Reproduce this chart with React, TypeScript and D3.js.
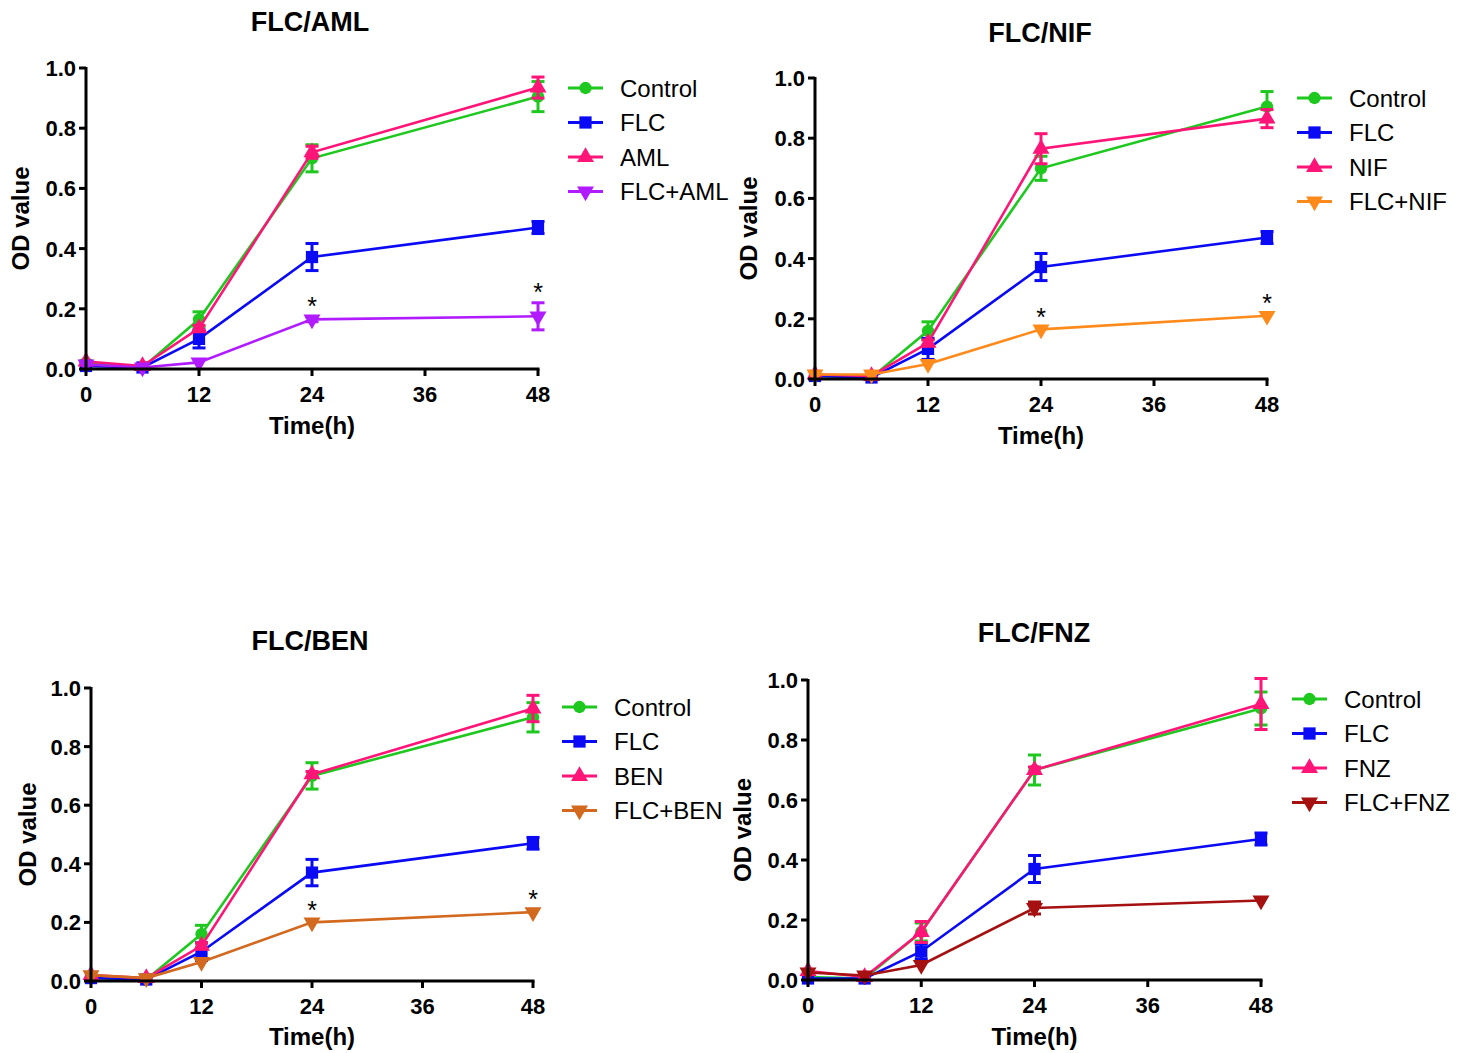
import React from 'react';
import * as d3 from 'd3';

// time points (h) and axis ticks
const times = [0, 6, 12, 24, 48];
const xTicks = [0, 12, 24, 36, 48];
const yTicks = [0, 0.2, 0.4, 0.6, 0.8, 1.0];

// FLC/AML panel
const amlControl = [0.02, 0.005, 0.165, 0.70, 0.905];
const amlControlErr = [0.008, 0.005, 0.025, 0.045, 0.05];
const amlFlc = [0.01, 0.005, 0.10, 0.372, 0.47];
const amlFlcErr = [0.005, 0.005, 0.03, 0.045, 0.02];
const amlDrug = [0.025, 0.01, 0.135, 0.72, 0.935];
const amlDrugErr = [0.005, 0.005, 0.01, 0.02, 0.035];
const amlCombo = [0.015, 0.005, 0.022, 0.165, 0.175];
const amlComboErr = [0.003, 0.003, 0.005, 0.008, 0.045];
const amlStars = [false, false, false, true, true];

// FLC/NIF panel
const nifControl = [0.01, 0.005, 0.16, 0.70, 0.905];
const nifControlErr = [0.005, 0.005, 0.03, 0.04, 0.05];
const nifFlc = [0.01, 0.005, 0.10, 0.372, 0.47];
const nifFlcErr = [0.005, 0.005, 0.035, 0.045, 0.02];
const nifDrug = [0.015, 0.01, 0.12, 0.765, 0.865];
const nifDrugErr = [0.005, 0.005, 0.01, 0.05, 0.03];
const nifCombo = [0.015, 0.015, 0.05, 0.165, 0.21];
const nifComboErr = [0.003, 0.003, 0.005, 0.006, 0.006];
const nifStars = [false, false, false, true, true];

// FLC/BEN panel
const benControl = [0.01, 0.005, 0.16, 0.70, 0.90];
const benControlErr = [0.005, 0.005, 0.03, 0.045, 0.05];
const benFlc = [0.01, 0.005, 0.10, 0.37, 0.47];
const benFlcErr = [0.005, 0.005, 0.03, 0.045, 0.02];
const benDrug = [0.02, 0.01, 0.12, 0.705, 0.93];
const benDrugErr = [0.005, 0.005, 0.01, 0.01, 0.045];
const benCombo = [0.02, 0.01, 0.065, 0.20, 0.235];
const benComboErr = [0.003, 0.003, 0.005, 0.006, 0.006];
const benStars = [false, false, false, true, true];

// FLC/FNZ panel
const fnzControl = [0.01, 0.005, 0.16, 0.70, 0.905];
const fnzControlErr = [0.005, 0.005, 0.03, 0.05, 0.055];
const fnzFlc = [0.005, 0.005, 0.095, 0.37, 0.47];
const fnzFlcErr = [0.005, 0.005, 0.025, 0.045, 0.02];
const fnzDrug = [0.03, 0.01, 0.16, 0.70, 0.92];
const fnzDrugErr = [0.005, 0.005, 0.035, 0.01, 0.085];
const fnzCombo = [0.025, 0.015, 0.05, 0.24, 0.265];
const fnzComboErr = [0.005, 0.005, 0.005, 0.02, 0.005];
const fnzStars = [false, false, false, false, false];

const GREEN = '#1ec81e';
const BLUE = '#0a0af5';
const PINK = '#ff1478';
const FONT = '"Liberation Sans", Arial, sans-serif';

type Series = { name: string; color: string; shape: string; values: number[]; errs: number[] };

const symbolPath = (shape: string) => {
  if (shape === 'circle') return d3.symbol(d3.symbolCircle, 120)()!;
  if (shape === 'square') return d3.symbol(d3.symbolSquare, 150)()!;
  return d3.symbol(d3.symbolTriangle, 125)()!;
};

const Marker = ({ shape, color, x, y }: { shape: string; color: string; x: number; y: number }) => (
  <path
    d={symbolPath(shape)}
    fill={color}
    transform={`translate(${x},${y})${shape === 'down' ? ' rotate(180)' : ''}`}
  />
);

const Panel = ({ title, series, stars, x0, x1, y0, y1, titleX, titleY, legendX, legendY, yLabelX, xLabelY }: any) => {
  const x = d3.scaleLinear().domain([0, 48]).range([x0, x1]);
  const y = d3.scaleLinear().domain([0, 1]).range([y0, y1]);
  const line = d3.line<number>().x((_, i) => x(times[i])).y(d => y(d));
  const combo: Series = series[3];

  return (
    <g fontFamily={FONT}>
      <text x={titleX} y={titleY} textAnchor="middle" fontSize={27} fontWeight="bold">{title}</text>

      {series.map((s: Series) => (
        <g key={s.name}>
          <path d={line(s.values)!} fill="none" stroke={s.color} strokeWidth={2.6} />
          {s.values.map((v, i) => s.errs[i] > 0.006 ? (
            <g key={i} stroke={s.color} strokeWidth={3}>
              <line x1={x(times[i])} x2={x(times[i])} y1={y(v - s.errs[i])} y2={y(v + s.errs[i])} />
              <line x1={x(times[i]) - 6.5} x2={x(times[i]) + 6.5} y1={y(v - s.errs[i])} y2={y(v - s.errs[i])} />
              <line x1={x(times[i]) - 6.5} x2={x(times[i]) + 6.5} y1={y(v + s.errs[i])} y2={y(v + s.errs[i])} />
            </g>
          ) : null)}
          {s.values.map((v, i) => (
            <Marker key={i} shape={s.shape} color={s.color} x={x(times[i])} y={y(v)} />
          ))}
        </g>
      ))}

      {stars.map((on: boolean, i: number) => on ? (
        <text key={i} x={x(times[i])} y={y(combo.values[i] + combo.errs[i]) - 2} textAnchor="middle" fontSize={25}>*</text>
      ) : null)}

      {/* axes */}
      <line x1={x0} x2={x0} y1={y1 - 1} y2={y0 + 1.5} stroke="#000" strokeWidth={3} />
      <line x1={x0 - 1.5} x2={x1 + 1.5} y1={y0} y2={y0} stroke="#000" strokeWidth={3} />
      {yTicks.map(t => (
        <g key={t}>
          <line x1={x0 - 7} x2={x0} y1={y(t)} y2={y(t)} stroke="#000" strokeWidth={3} />
          <text x={x0 - 10} y={y(t) + 8} textAnchor="end" fontSize={22} fontWeight="bold">{t.toFixed(1)}</text>
        </g>
      ))}
      {xTicks.map(t => (
        <g key={t}>
          <line x1={x(t)} x2={x(t)} y1={y0} y2={y0 + 7} stroke="#000" strokeWidth={3} />
          <text x={x(t)} y={y0 + 33} textAnchor="middle" fontSize={22} fontWeight="bold">{t}</text>
        </g>
      ))}
      <text x={(x0 + x1) / 2} y={xLabelY} textAnchor="middle" fontSize={24} fontWeight="bold">Time(h)</text>
      <text transform={`translate(${yLabelX},${(y0 + y1) / 2}) rotate(-90)`} textAnchor="middle" fontSize={24} fontWeight="bold">OD value</text>

      {/* legend */}
      {series.map((s: Series, i: number) => (
        <g key={s.name} transform={`translate(${legendX},${legendY + i * 34.5})`}>
          <line x1={0} x2={35} y1={0} y2={0} stroke={s.color} strokeWidth={3} />
          <Marker shape={s.shape} color={s.color} x={17.5} y={0} />
          <text x={52} y={8.5} fontSize={24}>{s.name}</text>
        </g>
      ))}
    </g>
  );
};

const mk = (drug: string, comboColor: string, c: number[][]): Series[] => [
  { name: 'Control', color: GREEN, shape: 'circle', values: c[0], errs: c[1] },
  { name: 'FLC', color: BLUE, shape: 'square', values: c[2], errs: c[3] },
  { name: drug, color: PINK, shape: 'up', values: c[4], errs: c[5] },
  { name: `FLC+${drug}`, color: comboColor, shape: 'down', values: c[6], errs: c[7] },
];

export default function App() {
  const aml = mk('AML', '#b01cff', [amlControl, amlControlErr, amlFlc, amlFlcErr, amlDrug, amlDrugErr, amlCombo, amlComboErr]);
  const nif = mk('NIF', '#ff8a1c', [nifControl, nifControlErr, nifFlc, nifFlcErr, nifDrug, nifDrugErr, nifCombo, nifComboErr]);
  const ben = mk('BEN', '#d2691e', [benControl, benControlErr, benFlc, benFlcErr, benDrug, benDrugErr, benCombo, benComboErr]);
  const fnz = mk('FNZ', '#a51010', [fnzControl, fnzControlErr, fnzFlc, fnzFlcErr, fnzDrug, fnzDrugErr, fnzCombo, fnzComboErr]);

  return (
    <svg width={1468} height={1053} style={{ position: 'absolute', left: 0, top: 0, background: '#fff' }}>
      <Panel title="FLC/AML" series={aml} stars={amlStars} x0={86} x1={538} y0={369} y1={68}
        titleX={310} titleY={31} legendX={568} legendY={88} yLabelX={29} xLabelY={434} />
      <Panel title="FLC/NIF" series={nif} stars={nifStars} x0={815} x1={1267} y0={379} y1={78}
        titleX={1040} titleY={42} legendX={1297} legendY={98} yLabelX={757} xLabelY={444} />
      <Panel title="FLC/BEN" series={ben} stars={benStars} x0={91} x1={533} y0={981} y1={688}
        titleX={310} titleY={650} legendX={562} legendY={707} yLabelX={36} xLabelY={1045} />
      <Panel title="FLC/FNZ" series={fnz} stars={fnzStars} x0={808} x1={1261} y0={980} y1={680}
        titleX={1034} titleY={642} legendX={1292} legendY={699} yLabelX={751} xLabelY={1045} />
    </svg>
  );
}
